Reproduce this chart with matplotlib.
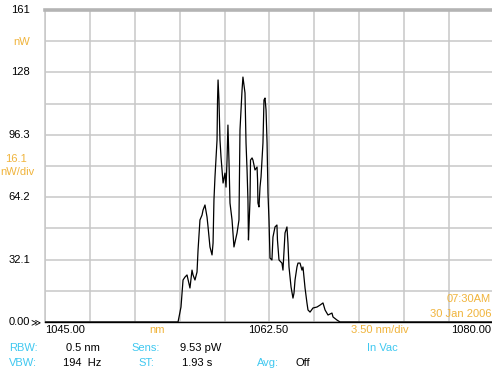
import matplotlib.pyplot as plt

# Spectrum trace: wavelength (nm) and power (nW)
wavelength = [1045.0, 1055.37, 1055.6, 1055.76, 1055.91, 1056.07, 1056.30, 1056.46, 1056.54,
              1056.69, 1056.85, 1056.93, 1057.08, 1057.24, 1057.32, 1057.47, 1057.63, 1057.71,
              1057.86, 1058.02, 1058.10, 1058.17, 1058.25, 1058.41, 1058.45, 1058.49, 1058.56,
              1058.64, 1058.72, 1058.80, 1058.88, 1059.03, 1059.11, 1059.19, 1059.26, 1059.34,
              1059.42, 1059.58, 1059.73, 1059.97, 1060.12, 1060.20, 1060.36, 1060.43, 1060.59,
              1060.67, 1060.75, 1060.82, 1060.86, 1060.90, 1060.98, 1061.02, 1061.14, 1061.21,
              1061.37, 1061.53, 1061.57, 1061.60, 1061.68, 1061.76, 1061.84, 1061.99, 1062.07,
              1062.15, 1062.23, 1062.31, 1062.38, 1062.46, 1062.54, 1062.69, 1062.77, 1062.93,
              1063.08, 1063.12, 1063.24, 1063.47, 1063.55, 1063.71, 1063.86, 1063.94, 1064.02,
              1064.18, 1064.33, 1064.41, 1064.49, 1064.64, 1064.72, 1064.88, 1065.03, 1065.11,
              1065.27, 1065.42, 1065.50, 1065.66, 1065.89, 1066.20, 1066.44, 1066.67, 1066.83,
              1067.06, 1067.37, 1067.45, 1067.76, 1068.0, 1080.0]
power = [0.0, 0.0, 7.7, 21.6, 23.1, 24.2, 17.5, 26.7, 24.2,
         21.6, 25.7, 37.0, 52.5, 55.0, 57.6, 60.2, 54.0, 48.9,
         38.6, 34.5, 40.6, 62.8, 74.6, 93.6, 114.2, 124.5, 114.2,
         93.6, 84.9, 78.2, 71.5, 76.6, 69.4, 83.3, 101.3, 83.3,
         61.2, 52.5, 38.6, 45.8, 52.5, 98.8, 119.3, 126.0, 117.8,
         92.1, 78.2, 62.8, 42.2, 48.9, 62.8, 83.3, 84.4, 83.3,
         78.2, 79.7, 73.0, 61.2, 59.2, 69.4, 74.6, 92.1, 114.2,
         115.2, 109.1, 92.1, 66.4, 52.5, 32.9, 31.9, 43.7, 48.9,
         49.9, 42.2, 31.9, 30.3, 26.7, 45.8, 48.9, 40.6, 28.3,
         18.0, 12.3, 14.9, 21.6, 28.3, 30.3, 30.3, 26.7, 28.3,
         17.5, 9.8, 6.2, 5.1, 7.2, 7.7, 8.7, 9.8, 6.2,
         3.6, 4.6, 2.6, 1.0, 0.0, 0.0]

y_labels = ["0.00", "32.1", "64.2", "96.3", "128", "161"]
x_labels = ["1045.00", "1062.50", "1080.00"]

x_min, x_max, x_div = 1045.0, 1080.0, 3.5
y_max, y_div = 160.5, 16.05

ORANGE = "#F0B43C"
CYAN = "#40C8F0"
GRID = "#C8C8C8"

W, H = 492, 373
plt.rcParams['font.family'] = ['Liberation Sans', 'DejaVu Sans']
plt.rcParams['font.size'] = 8

fig = plt.figure(figsize=(W / 100, H / 100), dpi=100)
ax = fig.add_axes([45 / W, (H - 322) / H, 449 / W, 312 / H])

ax.plot(wavelength, power, color='black', linewidth=0.9, zorder=3)

ax.set_xlim(x_min, x_max)
ax.set_ylim(0, y_max)
ax.set_xticks([x_min + i * x_div for i in range(11)])
ax.set_yticks([i * y_div for i in range(11)])
ax.tick_params(length=0, labelbottom=False, labelleft=False)
ax.grid(True, color=GRID, linewidth=1.1)

ax.spines['right'].set_visible(False)
ax.spines['left'].set_color(GRID)
ax.spines['left'].set_linewidth(1.1)
ax.spines['top'].set_color('#B4B4B4')
ax.spines['top'].set_linewidth(2.6)
ax.spines['bottom'].set_color('black')
ax.spines['bottom'].set_linewidth(1.0)


def ftext(x, y, s, color='black', ha='left', **kw):
    fig.text(x / W, 1 - y / H, s, color=color, ha=ha, va='center', **kw)


# y axis labels, one every two divisions
for i, lab in enumerate(y_labels):
    ypix = 322 - i * 2 * 31.2
    ftext(30, ypix, lab, ha='right')
ftext(30, 322, "\u226b", fontsize=7)
ftext(30, 42, "nW", color=ORANGE, ha='right')
ftext(16, 159, "16.1", color=ORANGE, ha='center')
ftext(17, 172, "nW/div", color=ORANGE, ha='center')

# x axis labels
ftext(45, 330, x_labels[0])
ftext(268, 330, x_labels[1], ha='center')
ftext(491, 330, x_labels[2], ha='right')
ftext(157, 330, "nm", color=ORANGE, ha='center')
ftext(380, 330, "3.50 nm/div", color=ORANGE, ha='center')

# timestamp
ftext(491, 299, "07:30AM", color=ORANGE, ha='right')
ftext(491, 314, "30 Jan 2006", color=ORANGE, ha='right')

# instrument settings
ftext(9, 348, "RBW:", color=CYAN)
ftext(66, 348, "0.5 nm")
ftext(131, 348, "Sens:", color=CYAN)
ftext(180, 348, "9.53 pW")
ftext(382, 348, "In Vac", color=CYAN, ha='center')
ftext(9, 363, "VBW:", color=CYAN)
ftext(63, 363, "194  Hz")
ftext(138, 363, "ST:", color=CYAN)
ftext(182, 363, "1.93 s")
ftext(257, 363, "Avg:", color=CYAN)
ftext(295, 363, "Off")

fig.savefig("out.png", dpi=100)
